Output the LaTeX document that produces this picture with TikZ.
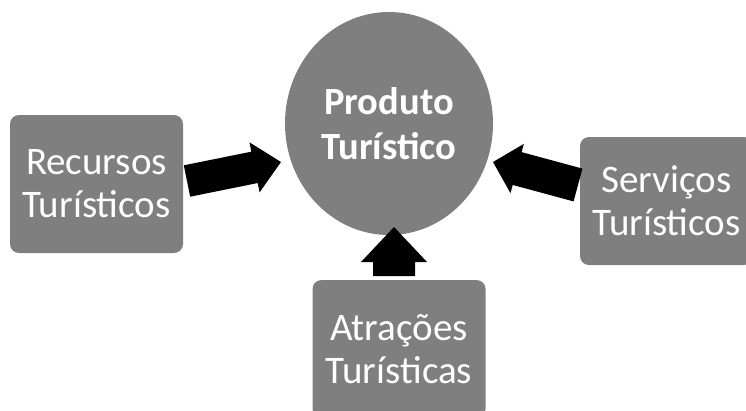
\documentclass[tikz,border=0pt]{standalone}
\usepackage{fontspec}
\setmainfont{Carlito}
\usetikzlibrary{calc,shapes.geometric}
\definecolor{boxgray}{HTML}{7F7F7F}
\tikzset{
  box/.style={fill=boxgray, rounded corners=9pt, minimum width=173pt, text=white,
    align=center, inner sep=0pt, font=\fontsize{39}{43}\selectfont},
  hub/.style={ellipse, fill=boxgray, minimum width=208pt, minimum height=223pt,
    inner sep=0pt, text=white, align=center, font=\bfseries\fontsize{38.5}{45}\selectfont},
  arrowfill/.style={fill=black}
}
\newcommand\blockarr[5]{%
  \coordinate (hb) at ($(#2)!#5!(#1)$);
  \fill[arrowfill] ($(#1)!#3!90:(#2)$) -- ($(hb)!#3!90:(#2)$) -- ($(hb)!#4!90:(#2)$) -- (#2)
    -- ($(hb)!#4!-90:(#2)$) -- ($(hb)!#3!-90:(#2)$) -- ($(#1)!#3!-90:(#2)$) -- cycle;}
\begin{document}
\begin{tikzpicture}[x=1pt,y=-1pt]
\useasboundingbox (0,0) rectangle (746,410);
\node[hub] (prod) at (389,123.5) {Produto\\Turístico};
\node[box, minimum height=138pt] (rec) at (96.5,184) {Recursos\\Turísticos};
\node[box, minimum height=128pt] (serv) at (666.5,201) {Serviços\\Turísticos};
\node[box, minimum height=138pt] (atr) at (399,349) {Atrações\\Turísticas};
\coordinate (recT) at (187,181);
\coordinate (recH) at (281,162);
\coordinate (servT) at (578,185);
\coordinate (servH) at (493,162);
\coordinate (atrT) at (394,276);
\coordinate (atrH) at (394,227);
\blockarr{recT}{recH}{16pt}{25.5pt}{27pt}
\blockarr{servT}{servH}{17pt}{25.5pt}{25pt}
\blockarr{atrT}{atrH}{21pt}{33pt}{35pt}
\end{tikzpicture}
\end{document}
